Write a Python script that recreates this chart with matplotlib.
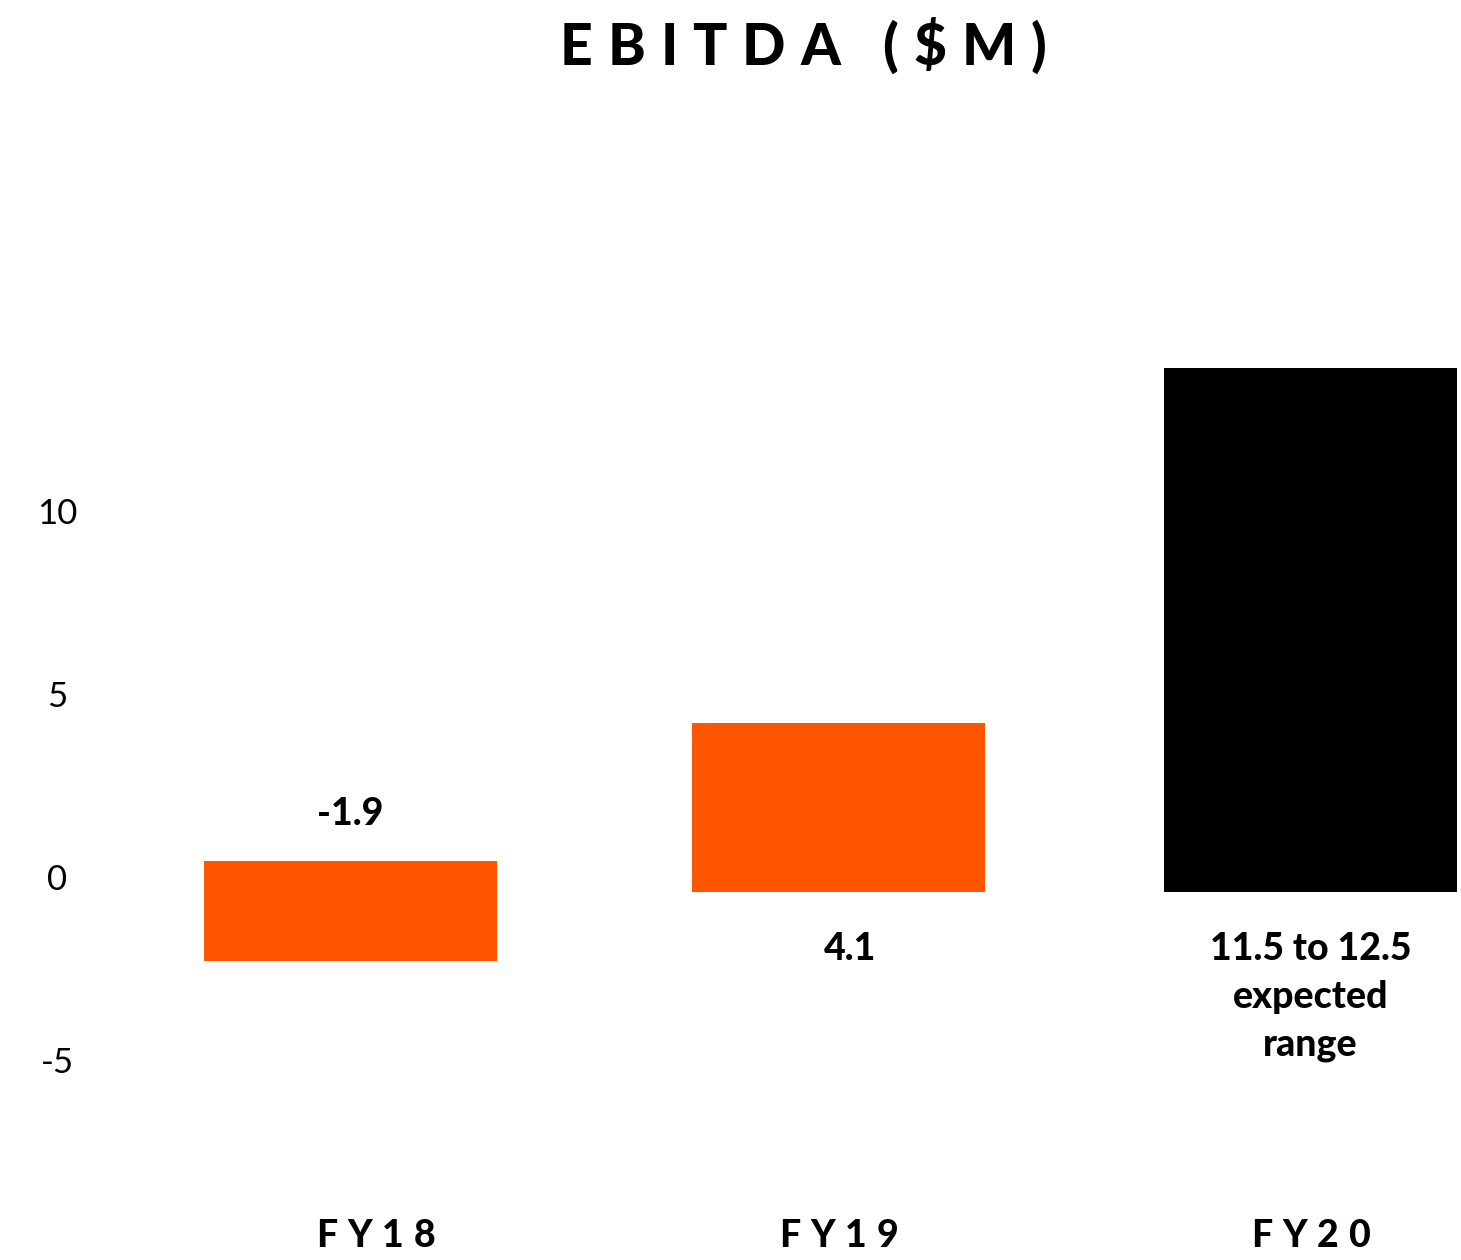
import matplotlib
matplotlib.use("Agg")
import matplotlib.pyplot as plt

# ---- data ----
categories = ["FY18", "FY19", "FY20"]
bar_tops = [0.45, 4.2, 13.9]
bar_bottoms = [-2.3, -0.4, -0.4]
value_labels = ["-1.9", "4.1", "11.5 to 12.5\nexpected\nrange"]
yticks = [-5, 0, 5, 10]
ytick_labels = ["-5", "0", "5", "10"]
title = "EBITDA ($M)"

# ---- layout / style ----
bar_colors = ["#FF5500", "#FF5500", "#000000"]
x_pos = [0.0, 1.0, 1.967]
cat_shift_px = [25, 0, 0]
val_shift_px = [0, 12, 0]
label_above = [True, False, False]

W, H, DPI = 1461, 1260, 100
fig = plt.figure(figsize=(W / DPI, H / DPI), dpi=DPI)
fig.patch.set_facecolor("white")
ax_left_px = 120
ax = fig.add_axes([ax_left_px / W, 0, 1 - ax_left_px / W, 1])
unit_x = 488.0
x0_px = 350.5
ax.set_xlim((ax_left_px - x0_px) / unit_x, (W - x0_px) / unit_x)
unit_y = 36.6
zero_px = 877.0
ax.set_ylim(-(H - zero_px) / unit_y, zero_px / unit_y)

heights = [t - b for t, b in zip(bar_tops, bar_bottoms)]
ax.bar(x_pos, heights, bottom=bar_bottoms, width=293 / unit_x,
       color=bar_colors, linewidth=0)

ax.set_yticks(yticks)
ax.set_yticklabels(ytick_labels, fontfamily="Lato", fontsize=25, ha="center")
ax.tick_params(axis="y", length=0, pad=(ax_left_px - 57) * 72 / DPI)
ax.set_xticks([])
for s in ax.spines.values():
    s.set_visible(False)

PT = 72 / DPI
HEAVY = "black"
for i in range(len(categories)):
    kw = dict(textcoords="offset points", ha="center",
              fontfamily="Lato", fontweight=HEAVY, fontsize=27,
              linespacing=1.5, multialignment="center", color="black")
    if label_above[i]:
        ax.annotate(value_labels[i], xy=(x_pos[i], bar_tops[i]),
                    xytext=(val_shift_px[i] * PT, 36 * PT), va="baseline", **kw)
    else:
        ax.annotate(value_labels[i], xy=(x_pos[i], bar_bottoms[i]),
                    xytext=(val_shift_px[i] * PT, -40 * PT), va="top", **kw)


def spaced_text(s, cx_px, base_px, gap_px, space_px, **kw):
    r = fig.canvas.get_renderer()
    widths = []
    for ch in s:
        if ch == " ":
            widths.append(space_px)
            continue
        t = fig.text(0, 0, ch, **kw)
        widths.append(t.get_window_extent(r).width)
        t.remove()
    total = sum(widths) + gap_px * (len(s) - 1)
    x = cx_px - total / 2
    for ch, w in zip(s, widths):
        if ch != " ":
            fig.text(x / W, 1 - base_px / H, ch, ha="left", va="baseline", **kw)
        x += w + gap_px


spaced_text(title, 803, 65, 15, 12, fontfamily="Lato", fontweight=HEAVY,
            fontsize=41, color="black")

for i, c in enumerate(categories):
    cx = ax.transData.transform((x_pos[i], 0))[0] + cat_shift_px[i]
    spaced_text(c, cx, 1247, 10, 5, fontfamily="Lato", fontweight=HEAVY,
                fontsize=27, color="black")

fig.savefig("out.png", dpi=DPI, facecolor="white")
